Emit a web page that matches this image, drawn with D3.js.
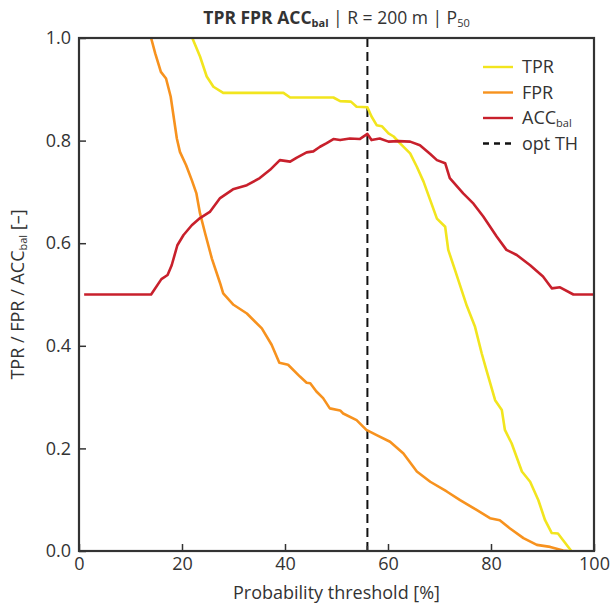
<!DOCTYPE html>
<html>
<head>
<meta charset="utf-8">
<script src="https://cdn.jsdelivr.net/npm/d3@7"></script>
<style>
  body { margin: 0; background: #fff; }
  text { font-family: "Open Sans", sans-serif; fill: #333; }
</style>
</head>
<body>
<svg id="chart" width="611" height="607"></svg>
<script>
// threshold [%] and values
var tprX = [22, 23.5, 24.8, 26.1, 28, 39.7, 41, 49.4, 50.7, 52.8, 53.9, 56, 56.8, 57.8, 58.8, 60.1, 61.1, 62.3, 64.3, 65.6, 66.9, 68.2, 69.5, 71.1, 71.7, 73, 75.3, 76.9, 78.2, 79.1, 80.8, 82.1, 82.7, 84, 86, 87.6, 89.2, 90.5, 91.8, 93, 94, 95.6];
var tprY = [1.0, 0.964, 0.925, 0.905, 0.893, 0.893, 0.884, 0.884, 0.877, 0.876, 0.866, 0.865, 0.847, 0.830, 0.828, 0.814, 0.808, 0.795, 0.775, 0.749, 0.720, 0.684, 0.648, 0.632, 0.587, 0.548, 0.478, 0.437, 0.385, 0.353, 0.294, 0.275, 0.236, 0.210, 0.155, 0.135, 0.099, 0.060, 0.035, 0.034, 0.021, 0.0];

var fprX = [14, 14.8, 15.9, 16.9, 17.8, 19, 19.6, 20.8, 21.9, 22.8, 23.5, 24.5, 25.8, 27.4, 28, 30, 32.6, 35.5, 37.4, 38.9, 40.6, 42.9, 44.2, 44.9, 46.1, 47.4, 48.7, 50.7, 51.3, 53.9, 55.8, 57.8, 60.4, 63, 65.6, 68.2, 71.4, 74, 77.2, 79.8, 81.7, 83.7, 86.3, 88.9, 91.5, 94, 95];
var fprY = [1.0, 0.970, 0.934, 0.921, 0.886, 0.804, 0.778, 0.752, 0.723, 0.697, 0.658, 0.619, 0.570, 0.522, 0.502, 0.480, 0.463, 0.434, 0.402, 0.367, 0.363, 0.340, 0.328, 0.327, 0.311, 0.298, 0.278, 0.274, 0.268, 0.255, 0.236, 0.226, 0.213, 0.190, 0.155, 0.135, 0.116, 0.099, 0.080, 0.064, 0.060, 0.044, 0.025, 0.012, 0.008, 0.001, 0.0];

var accX = [1, 14, 16, 17.2, 18, 19.1, 20.3, 21.9, 23.5, 25.4, 27.4, 29.9, 32.6, 35.1, 37.1, 39, 41, 42.3, 44.2, 45.5, 46.8, 48.1, 49.4, 50.7, 52.6, 54.5, 56, 56.8, 58.4, 60.1, 62, 64.3, 66.2, 68.2, 69.5, 71.1, 72, 74.6, 76.6, 78.5, 81.1, 83, 85, 87.6, 90.1, 91.8, 93.4, 96, 100];
var accY = [0.5, 0.5, 0.53, 0.538, 0.557, 0.596, 0.616, 0.635, 0.649, 0.661, 0.688, 0.705, 0.713, 0.727, 0.743, 0.762, 0.759, 0.767, 0.777, 0.779, 0.788, 0.795, 0.803, 0.801, 0.804, 0.803, 0.813, 0.801, 0.804, 0.798, 0.799, 0.798, 0.791, 0.774, 0.762, 0.756, 0.727, 0.697, 0.677, 0.652, 0.613, 0.587, 0.577, 0.557, 0.535, 0.512, 0.514, 0.5, 0.5];

var optTH = 56;
var xTicks = [0, 20, 40, 60, 80, 100];
var yTicks = [0, 0.2, 0.4, 0.6, 0.8, 1.0];

var colTPR = "#f2e51e", colFPR = "#f7921e", colACC = "#c8202c";

var svg = d3.select("#chart");
var pL = 79, pR = 594, pT = 38, pB = 551;

var x = d3.scaleLinear().domain([0, 100]).range([pL, pR]);
var y = d3.scaleLinear().domain([0, 1]).range([pB, pT]);

function zip(xs, ys) {
    return xs.map(function (d, i) { return [d, ys[i]]; });
}

var line = d3.line()
    .x(function (d) { return x(d[0]); })
    .y(function (d) { return y(d[1]); });

svg.append("clipPath").attr("id", "clip")
    .append("rect")
    .attr("x", pL).attr("y", pT)
    .attr("width", pR - pL).attr("height", pB - pT);

var plot = svg.append("g").attr("clip-path", "url(#clip)");

plot.append("line")
    .attr("x1", x(optTH)).attr("x2", x(optTH))
    .attr("y1", y(1)).attr("y2", y(0))
    .attr("stroke", "#111")
    .attr("stroke-width", 2)
    .attr("stroke-dasharray", "9,5");

[[tprX, tprY, colTPR], [fprX, fprY, colFPR], [accX, accY, colACC]].forEach(function (s) {
    plot.append("path")
        .datum(zip(s[0], s[1]))
        .attr("d", line)
        .attr("fill", "none")
        .attr("stroke", s[2])
        .attr("stroke-width", 2.6)
        .attr("stroke-linejoin", "round");
});

// axes, ticks pointing inwards
var xAxis = svg.append("g")
    .attr("transform", "translate(0," + pB + ")")
    .call(d3.axisBottom(x).tickValues(xTicks).tickSize(-7).tickPadding(6).tickFormat(d3.format("d")));

svg.append("line")
    .attr("x1", x(optTH)).attr("x2", x(optTH))
    .attr("y1", pB).attr("y2", pB - 5)
    .attr("stroke", "#333").attr("stroke-width", 1.5);

var yAxis = svg.append("g")
    .attr("transform", "translate(" + pL + ",0)")
    .call(d3.axisLeft(y).tickValues(yTicks).tickSize(-7).tickPadding(8).tickFormat(d3.format(".1f")));

[xAxis, yAxis].forEach(function (g) {
    g.select(".domain").remove();
    g.selectAll(".tick line").attr("stroke", "#333").attr("stroke-width", 1.5);
    g.selectAll(".tick text").style("font-size", "18px").attr("fill", "#3a3a3a");
});

svg.append("rect")
    .attr("x", pL).attr("y", pT)
    .attr("width", pR - pL).attr("height", pB - pT)
    .attr("fill", "none")
    .attr("stroke", "#333")
    .attr("stroke-width", 2.2);

// title
var title = svg.append("text")
    .attr("x", (pL + pR) / 2)
    .attr("y", 24)
    .attr("text-anchor", "middle")
    .style("font-size", "17.5px")
    .attr("fill", "#111");
title.append("tspan").style("font-weight", "bold").text("TPR FPR ACC");
title.append("tspan").style("font-weight", "bold").style("font-size", "11px").attr("dy", 3).text("bal");
title.append("tspan").attr("dy", -3).text(" | R = 200 m | P");
title.append("tspan").style("font-size", "11px").attr("dy", 3).text("50");

// axis labels
svg.append("text")
    .attr("x", (pL + pR) / 2)
    .attr("y", 599)
    .attr("text-anchor", "middle")
    .style("font-size", "18px")
    .text("Probability threshold [%]");

var yl = svg.append("text")
    .attr("transform", "translate(24," + (pT + pB) / 2 + ") rotate(-90)")
    .attr("text-anchor", "middle")
    .style("font-size", "18px");
yl.append("tspan").text("TPR / FPR / ACC");
yl.append("tspan").style("font-size", "11px").attr("dy", 3).text("bal");
yl.append("tspan").attr("dy", -3).text(" [\u2013]");

// legend
var legend = [
    { name: "TPR", sub: "", color: colTPR, dash: null },
    { name: "FPR", sub: "", color: colFPR, dash: null },
    { name: "ACC", sub: "bal", color: colACC, dash: null },
    { name: "opt TH", sub: "", color: "#111", dash: "6,5" }
];

var lg = svg.append("g").selectAll("g")
    .data(legend)
    .enter().append("g")
    .attr("transform", function (d, i) { return "translate(483," + (67 + i * 25.5) + ")"; });

lg.append("line")
    .attr("x1", 0).attr("x2", 30)
    .attr("stroke", function (d) { return d.color; })
    .attr("stroke-width", 2.4)
    .attr("stroke-dasharray", function (d) { return d.dash; });

var lt = lg.append("text")
    .attr("x", 39)
    .attr("dy", "0.35em")
    .style("font-size", "18px");
lt.append("tspan").text(function (d) { return d.name; });
lt.append("tspan").style("font-size", "11px").attr("dy", 3).text(function (d) { return d.sub; });
</script>
</body>
</html>
